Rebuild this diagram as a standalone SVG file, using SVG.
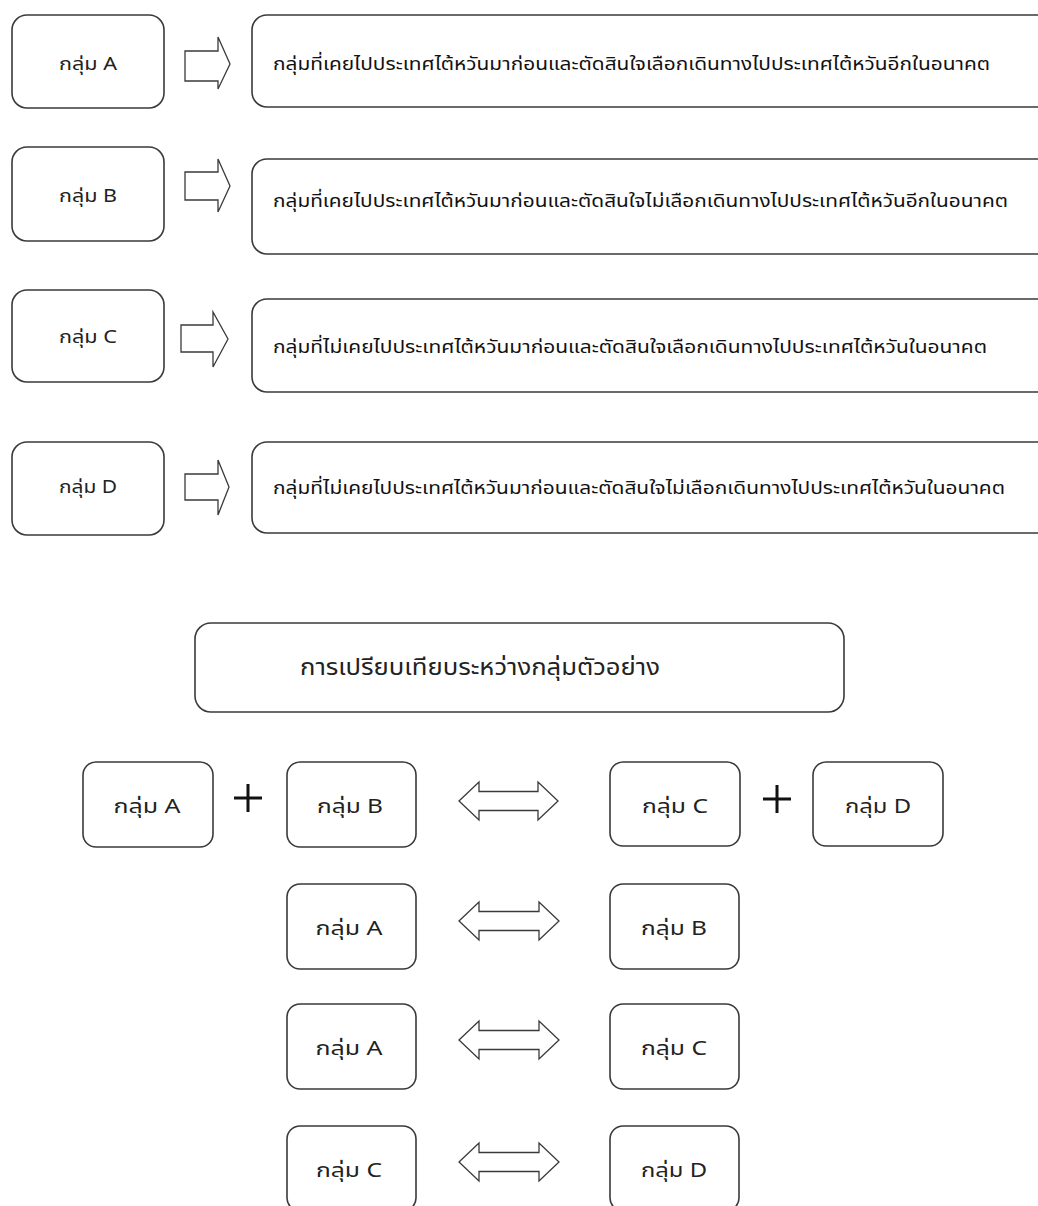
<svg xmlns="http://www.w3.org/2000/svg" width="1038" height="1206" viewBox="0 0 1038 1206">
<style>
.box{fill:#fff;stroke:#3a3a3a;stroke-width:1.6}
.arr{fill:#fff;stroke:#3a3a3a;stroke-width:1.3;stroke-linejoin:miter}
.plus{stroke:#111;stroke-width:3;fill:none}
.lbl{font-family:"Noto Sans Thai","Leelawadee UI","Tahoma","Noto Sans","DejaVu Sans",sans-serif;fill:#222;text-anchor:middle}
.t14{font-size:18px}
.t16{font-size:20px}
.ttl{font-family:"Noto Sans Thai","Leelawadee UI","Tahoma","Noto Sans","DejaVu Sans",sans-serif;fill:#222;font-size:23px}
.long{font-family:"Noto Sans Thai","Tahoma","Noto Sans","DejaVu Sans",sans-serif;font-size:18px;fill:#111}
</style>
<rect width="1038" height="1206" fill="#fff"/>
<g id="groupA"><rect class="box" x="12" y="15" width="152" height="93" rx="15"/><text class="lbl t14" x="88" y="70" textLength="58" lengthAdjust="spacingAndGlyphs">กลุ่ม A</text></g>
<g id="descA"><rect class="box" x="252" y="15" width="800" height="92" rx="15"/><text class="long" x="273" y="70" textLength="717" lengthAdjust="spacingAndGlyphs">กลุ่มที่เคยไปประเทศไต้หวันมาก่อนและตัดสินใจเลือกเดินทางไปประเทศไต้หวันอีกในอนาคต</text></g>
<g id="groupB"><rect class="box" x="12" y="147" width="152" height="94" rx="15"/><text class="lbl t14" x="88" y="202" textLength="58" lengthAdjust="spacingAndGlyphs">กลุ่ม B</text></g>
<g id="descB"><rect class="box" x="252" y="159" width="800" height="95" rx="15"/><text class="long" x="273" y="207" textLength="735" lengthAdjust="spacingAndGlyphs">กลุ่มที่เคยไปประเทศไต้หวันมาก่อนและตัดสินใจไม่เลือกเดินทางไปประเทศไต้หวันอีกในอนาคต</text></g>
<g id="groupC"><rect class="box" x="12" y="290" width="152" height="92" rx="15"/><text class="lbl t14" x="88" y="343" textLength="58" lengthAdjust="spacingAndGlyphs">กลุ่ม C</text></g>
<g id="descC"><rect class="box" x="252" y="299" width="800" height="93" rx="15"/><text class="long" x="273" y="353" textLength="714" lengthAdjust="spacingAndGlyphs">กลุ่มที่ไม่เคยไปประเทศไต้หวันมาก่อนและตัดสินใจเลือกเดินทางไปประเทศไต้หวันในอนาคต</text></g>
<g id="groupD"><rect class="box" x="12" y="442" width="152" height="93" rx="15"/><text class="lbl t14" x="88" y="493" textLength="58" lengthAdjust="spacingAndGlyphs">กลุ่ม D</text></g>
<g id="descD"><rect class="box" x="252" y="442" width="800" height="91" rx="15"/><text class="long" x="273" y="494" textLength="732" lengthAdjust="spacingAndGlyphs">กลุ่มที่ไม่เคยไปประเทศไต้หวันมาก่อนและตัดสินใจไม่เลือกเดินทางไปประเทศไต้หวันในอนาคต</text></g>
<g id="title"><rect class="box" x="195" y="623" width="649" height="89" rx="16"/><text class="ttl" x="300" y="675" textLength="360" lengthAdjust="spacingAndGlyphs">การเปรียบเทียบระหว่างกลุ่มตัวอย่าง</text></g>
<g id="r1A"><rect class="box" x="83" y="762" width="130" height="85" rx="13"/><text class="lbl t16" x="147" y="813" textLength="67" lengthAdjust="spacingAndGlyphs">กลุ่ม A</text></g>
<g id="r1B"><rect class="box" x="287" y="762" width="129" height="85" rx="13"/><text class="lbl t16" x="350" y="813" textLength="66" lengthAdjust="spacingAndGlyphs">กลุ่ม B</text></g>
<g id="r1C"><rect class="box" x="610" y="762" width="130" height="84" rx="13"/><text class="lbl t16" x="675" y="813" textLength="66" lengthAdjust="spacingAndGlyphs">กลุ่ม C</text></g>
<g id="r1D"><rect class="box" x="813" y="762" width="130" height="84" rx="13"/><text class="lbl t16" x="878" y="813" textLength="66" lengthAdjust="spacingAndGlyphs">กลุ่ม D</text></g>
<g id="r2A"><rect class="box" x="287" y="884" width="129" height="85" rx="13"/><text class="lbl t16" x="349" y="935" textLength="67" lengthAdjust="spacingAndGlyphs">กลุ่ม A</text></g>
<g id="r2B"><rect class="box" x="610" y="884" width="129" height="85" rx="13"/><text class="lbl t16" x="674" y="935" textLength="66" lengthAdjust="spacingAndGlyphs">กลุ่ม B</text></g>
<g id="r3A"><rect class="box" x="287" y="1004" width="129" height="85" rx="13"/><text class="lbl t16" x="349" y="1055" textLength="67" lengthAdjust="spacingAndGlyphs">กลุ่ม A</text></g>
<g id="r3C"><rect class="box" x="610" y="1004" width="129" height="85" rx="13"/><text class="lbl t16" x="674" y="1055" textLength="66" lengthAdjust="spacingAndGlyphs">กลุ่ม C</text></g>
<g id="r4C"><rect class="box" x="287" y="1126" width="129" height="85" rx="13"/><text class="lbl t16" x="349" y="1177" textLength="66" lengthAdjust="spacingAndGlyphs">กลุ่ม C</text></g>
<g id="r4D"><rect class="box" x="610" y="1126" width="129" height="85" rx="13"/><text class="lbl t16" x="674" y="1177" textLength="66" lengthAdjust="spacingAndGlyphs">กลุ่ม D</text></g>
<g id="connectors">
<path class="arr" d="M185,51 H218 V37 L230,64 L218,89 V81 H185 Z"/>
<path class="arr" d="M185,172 H218 V159 L230,186 L218,212 V200 H185 Z"/>
<path class="arr" d="M181,325 H213 V312 L228,339 L213,367 V352 H181 Z"/>
<path class="arr" d="M185,474 H218 V460 L229,487 L218,515 V500 H185 Z"/>
<path class="arr" d="M459,801 L479,782 V791.5 H538 V782 L558,801 L538,820 V810.5 H479 V820 Z"/>
<path class="arr" d="M459,921 L479,902 V911.5 H539 V902 L559,921 L539,940 V930.5 H479 V940 Z"/>
<path class="arr" d="M459,1040 L479,1021 V1030.5 H539 V1021 L559,1040 L539,1059 V1049.5 H479 V1059 Z"/>
<path class="arr" d="M459,1162 L479,1143 V1152.5 H539 V1143 L559,1162 L539,1181 V1171.5 H479 V1181 Z"/>
<path class="plus" d="M234,798 H262 M248,784 V812"/>
<path class="plus" d="M763,799 H791 M777,785 V813"/>
</g>
</svg>
